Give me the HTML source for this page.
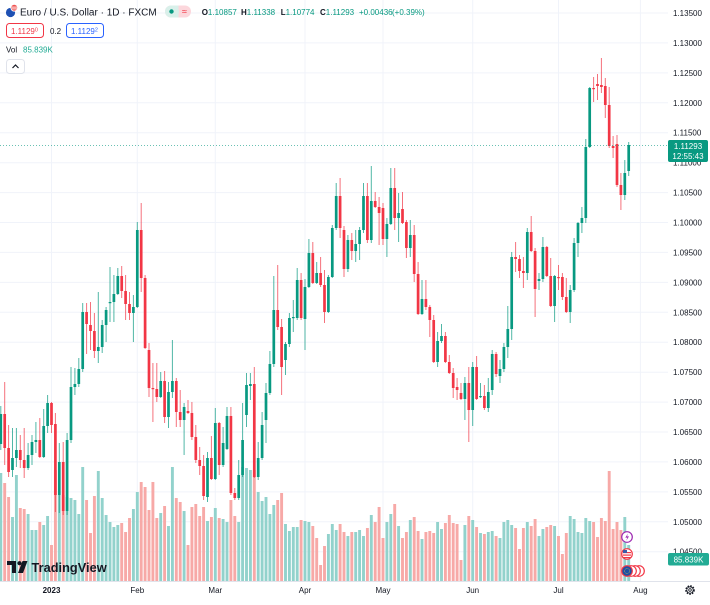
<!DOCTYPE html>
<html>
<head>
<meta charset="utf-8">
<style>
  html,body{margin:0;padding:0;background:#fff;}
  body{width:710px;height:600px;overflow:hidden;}
  svg text{font-family:"Liberation Sans",sans-serif;}
</style>
</head>
<body>
<div id="wrap"></div>
<script>
(function(){
var C=[
[444,414,406,450],[414,448,382,465],[448,472,425,477],[470,458,428,477],[458,450,428,467],[450,460,435,468],[460,468,428,478],[468,455,443,470],[455,442,435,465],[442,440,422,453],[440,457,418,458],[457,426,409,458],[426,403,395,433],
[403,425,402,433],[424,495,413,512],[495,462,443,513],[462,511,442,515],[511,440,433,515],[440,387,367,443],[387,384,368,395],[384,369,358,387],[369,312,303,372],[312,324,303,354],
[325,331,302,350],[331,351,313,358],[351,347,292,363],[347,325,320,353],[325,310,307,342],[303,302,267,322],[302,294,275,322],[294,276,268,295],[276,291,266,298],[291,304,275,320],
[304,313,292,320],[313,307,295,342],[307,230,222,308],[230,278,203,292],[278,348,275,349],[350,388,343,397],[388,389,363,422],[389,397,363,402],[397,381,372,398],[381,417,371,423],
[417,392,382,428],[392,381,340,398],[381,412,378,427],[412,420,390,427],[420,407,403,455],[411,413,400,414],[413,437,402,440],[437,460,425,463],[460,466,447,475],[466,496,455,500],
[497,458,452,502],[458,479,436,480],[479,423,408,480],[423,465,422,475],[465,443,427,467],[449,416,407,450],[416,493,407,495],[493,498,488,500],[498,475,460,500],[475,440,403,477],
[415,385,373,427],[386,384,373,400],[384,477,367,478],[477,458,442,480],[458,425,412,460],[420,393,383,443],[393,364,351,395],[364,310,276,367],[310,327,265,330],[327,367,319,395],
[360,344,342,375],[344,318,313,347],[318,317,300,332],[318,280,268,320],[280,318,273,320],[319,287,279,350],[287,253,239,288],[253,283,242,284],[283,273,262,284],[273,285,257,287],
[285,312,270,323],[312,277,275,313],[277,228,225,278],[228,196,183,230],[196,228,178,238],[230,269,226,277],[269,240,235,272],[240,251,233,260],[251,244,230,262],[244,230,227,260],
[230,196,183,233],[196,240,183,243],[240,201,166,243],[201,207,192,208],[207,213,197,245],[208,239,203,245],[239,224,218,257],[224,188,168,225],[188,218,168,230],[218,213,193,242],
[209,223,192,224],[222,248,220,258],[248,235,220,257],[235,274,225,282],[274,314,262,315],[314,299,280,315],[299,307,280,310],[307,320,305,337],[320,362,315,363],[362,341,332,367],
[341,336,324,343],[336,362,332,363],[362,373,355,374],[373,388,368,398],[387,390,378,400],[393,399,383,400],[399,383,377,420],[383,410,367,442],[410,367,362,426],[367,399,356,400],
[397,396,383,398],[396,408,385,410],[408,392,378,412],[390,354,350,395],[354,374,352,377],[376,369,360,383],[369,347,343,372],[347,329,306,358],[329,257,252,340],[257,259,242,272],
[259,271,255,278],[271,273,257,288],[273,232,228,280],[232,251,216,252],[251,289,248,317],[281,279,273,290],[279,247,237,282],[247,276,246,277],[276,306,258,307],[306,276,275,322],
[277,278,265,290],[277,297,273,300],[297,312,278,313],[312,290,285,323],[290,243,238,292],[243,223,222,257],[223,218,207,233],[218,147,139,223],[147,88,87,148],[88,89,77,102],
[84,86,74,100],[85,87,58,93],[86,105,78,118],[105,146,87,148],[146,148,136,158],[144,185,135,187],[185,195,173,210],[195,173,160,200],[171,145,142,176]
];
var V=[
473,-483,-497,517,475,-508,-509,514,530,530,-522,525,516,
-545,-470,495,-495,497,498,500,514,467,-500,
-533,-496,471,498,515,522,527,525,-523,-532,
-518,509,492,-482,-487,-510,-482,-518,513,-506,
526,467,-498,-502,511,-545,-507,-504,-516,-507,
521,-517,508,-518,519,522,-500,-516,522,467,
468,470,-470,492,501,497,514,505,-500,-493,
524,531,527,527,-520,521,522,-526,-538,-565,
-546,534,524,530,-524,-532,536,-532,532,530,
536,-528,515,-522,-507,-538,522,514,-504,526,
-538,-532,520,-517,-531,539,-532,-531,-533,522,
529,-523,-515,-523,-524,-560,525,-516,520,-527,
533,-534,532,531,-536,538,522,520,525,-528,
-549,-528,522,-526,-519,536,529,-527,-525,526,
-536,-554,-533,516,519,532,533,518,521,-522,
-537,-518,-521,-471,-529,-522,-530,517,545
];
var s='<svg xmlns="http://www.w3.org/2000/svg" width="710" height="600" viewBox="0 0 710 600">';
s+='<rect width="710" height="600" fill="#ffffff"/>';
var k,y,p;
for(k=0;k<=18;k++){y=(13+29.93*k).toFixed(1);s+='<line x1="0" x2="668" y1="'+y+'" y2="'+y+'" stroke="#f0f3fa" stroke-width="1"/>';}
var mi=[0,22,42,65,85,108,130,151];
var ml=['2023','Feb','Mar','Apr','May','Jun','Jul','Aug'];
for(k=0;k<mi.length;k++){var gx=(51.5+3.9*mi[k]).toFixed(1);s+='<line x1="'+gx+'" x2="'+gx+'" y1="0" y2="581" stroke="#f0f3fa" stroke-width="1"/>';}
for(k=0;k<V.length;k++){var i=k-13;var x=51.5+3.9*i;var v=V[k];var t=Math.abs(v);
 s+='<rect x="'+(x-1.45).toFixed(2)+'" y="'+t+'" width="2.9" height="'+(581-t)+'" fill="'+(v>0?'#92d2cc':'#f7a9a7')+'"/>';}
for(k=0;k<C.length;k++){var i2=k-13;var x2=51.5+3.9*i2;var o=C[k][0],c=C[k][1],h=C[k][2],l=C[k][3];
 var col=(c<=o)?'#089981':'#f23645';
 s+='<line x1="'+x2.toFixed(2)+'" x2="'+x2.toFixed(2)+'" y1="'+h+'" y2="'+l+'" stroke="'+col+'" stroke-width="1" opacity="0.7"/>';
 var tp=Math.min(o,c),bt=Math.max(o,c);var hh=Math.max(bt-tp,1.2);
 s+='<rect x="'+(x2-1.35).toFixed(2)+'" y="'+tp+'" width="2.7" height="'+hh+'" fill="'+col+'"/>';}
s+='<line x1="0" x2="710" y1="581.5" y2="581.5" stroke="#e0e3eb" stroke-width="1"/>';
s+='<line x1="0" x2="668" y1="145.5" y2="145.5" stroke="#089981" stroke-width="1" stroke-dasharray="1 2" opacity="0.6"/>';
for(k=0;k<=18;k++){y=13+29.93*k;p=(1.135-0.005*k).toFixed(5);
 s+='<text x="673" y="'+(y+3).toFixed(1)+'" font-size="8" fill="#131722">'+p+'</text>';}
for(k=0;k<mi.length;k++){var tx=(51.5+3.9*mi[k]).toFixed(1);
 s+='<text x="'+tx+'" y="593" font-size="8" text-anchor="middle" fill="#131722"'+(k==0?' font-weight="bold"':'')+'>'+ml[k]+'</text>';}
s+='<circle cx="690" cy="590" r="4" fill="none" stroke="#131722" stroke-width="1.6" stroke-dasharray="1.6 1.1"/>';
s+='<circle cx="690" cy="590" r="3.2" fill="none" stroke="#131722" stroke-width="0.8"/>';
s+='<circle cx="690" cy="590" r="1.3" fill="none" stroke="#131722" stroke-width="0.8"/>';
s+='<rect x="668" y="140" width="40" height="22" rx="2" fill="#089981"/>';
s+='<text x="688" y="149" font-size="8" text-anchor="middle" fill="#ffffff">1.11293</text>';
s+='<text x="688" y="159" font-size="8" text-anchor="middle" fill="#ffffff">12:55:43</text>';
s+='<rect x="668" y="553" width="41" height="12.5" rx="2" fill="#22ab94"/>';
s+='<text x="688.5" y="562.3" font-size="8" text-anchor="middle" fill="#ffffff">85.839K</text>';
s+='<circle cx="639" cy="571" r="5.3" fill="#fff" stroke="#f23645" stroke-width="1.2"/>';
s+='<circle cx="635" cy="571" r="5.3" fill="#fff" stroke="#f23645" stroke-width="1.2"/>';
s+='<circle cx="631" cy="571" r="5.3" fill="#fff" stroke="#f23645" stroke-width="1.2"/>';
s+='<circle cx="627" cy="571" r="5.3" fill="#1e4fa3" stroke="#f23645" stroke-width="1.2"/>';
s+='<circle cx="627" cy="571" r="2.6" fill="none" stroke="#f5d142" stroke-width="0.6" stroke-dasharray="0.6 0.8"/>';
s+='<circle cx="627" cy="554" r="5.3" fill="#fff" stroke="#f23645" stroke-width="1.2"/>';
s+='<rect x="623" y="552" width="8" height="1.2" fill="#f23645"/><rect x="623" y="554.5" width="8" height="1.2" fill="#f23645"/><rect x="623" y="557" width="8" height="1.2" fill="#f23645"/>';
s+='<rect x="623" y="550" width="4" height="3" fill="#3c5aa8"/>';
s+='<circle cx="627" cy="537" r="5.3" fill="#fff" stroke="#9c27b0" stroke-width="1.2"/>';
s+='<path d="M628 533.5 L625.3 537.6 L627.3 537.6 L626.2 540.8 L629 536.4 L627 536.4 Z" fill="#9c27b0"/>';
s+='<circle cx="10.5" cy="12.5" r="4.6" fill="#1e50b3"/>';
s+='<circle cx="14.2" cy="7.8" r="3.4" fill="#ffffff" stroke="#ffffff" stroke-width="0.8"/>';
s+='<circle cx="14.2" cy="7.8" r="3" fill="#ef5350"/>';
s+='<rect x="11.5" y="6.7" width="5.5" height="0.8" fill="#fff"/><rect x="11.5" y="8.5" width="5.5" height="0.8" fill="#fff"/>';
s+='<text x="20" y="15.3" font-size="10" fill="#131722">Euro / U.S. Dollar · 1D · FXCM</text>';
s+='<rect x="165" y="5.5" width="26" height="12" rx="6" fill="#fcd7dc"/>';
s+='<rect x="165" y="5.5" width="14" height="12" rx="6" fill="#d9f0ea"/>';
s+='<rect x="172" y="5.5" width="6.5" height="12" fill="#d9f0ea"/>';
s+='<circle cx="171.5" cy="11.5" r="2.2" fill="#089981"/>';
s+='<text x="184.5" y="14.6" font-size="9" text-anchor="middle" fill="#f23645">≈</text>';
var g='#089981';
function lab(x,L,val){return '<text x="'+x+'" y="15" font-size="8"><tspan fill="#131722" font-weight="bold">'+L+'</tspan><tspan fill="'+g+'">'+val+'</tspan></text>';}
s+=lab(201.7,'O','1.10857')+lab(241,'H','1.11338')+lab(280.7,'L','1.10774')+lab(320,'C','1.11293');
s+='<text x="359" y="15" font-size="8" fill="'+g+'">+0.00436</text>';
s+='<text x="392" y="15" font-size="8" fill="'+g+'">(+0.39%)</text>';
s+='<rect x="6.5" y="23.5" width="37" height="14" rx="3" fill="#fff" stroke="#f23645" stroke-width="1"/>';
s+='<text x="11" y="33.8" font-size="8" fill="#f23645">1.1129<tspan font-size="5.5" dy="-2.5">0</tspan></text>';
s+='<text x="50" y="33.8" font-size="8" fill="#131722">0.2</text>';
s+='<rect x="66.5" y="23.5" width="37" height="14" rx="3" fill="#fff" stroke="#2962ff" stroke-width="1"/>';
s+='<text x="71" y="33.8" font-size="8" fill="#2962ff">1.1129<tspan font-size="5.5" dy="-2.5">2</tspan></text>';
s+='<text x="6" y="52.5" font-size="8" fill="#131722">Vol</text>';
s+='<text x="23" y="52.5" font-size="8" fill="#22ab94">85.839K</text>';
s+='<rect x="6.5" y="59.5" width="18" height="14" rx="3" fill="#fff" stroke="#e0e3eb" stroke-width="1"/>';
s+='<polyline points="12.5,68 15.5,65 18.5,68" fill="none" stroke="#131722" stroke-width="1.2"/>';
s+='<path d="M7 561 H16 V573 H12 V565 H7 Z" fill="#131722"/>';
s+='<circle cx="19.5" cy="563.2" r="2.1" fill="#131722"/>';
s+='<path d="M22.5 561 H27.5 L23 573 H18 Z" fill="#131722"/>';
s+='<text x="31.5" y="572" font-size="12.8" font-weight="bold" fill="#131722">TradingView</text>';
s+='</svg>';
document.getElementById('wrap').innerHTML=s;
})();
</script>
</body>
</html>
